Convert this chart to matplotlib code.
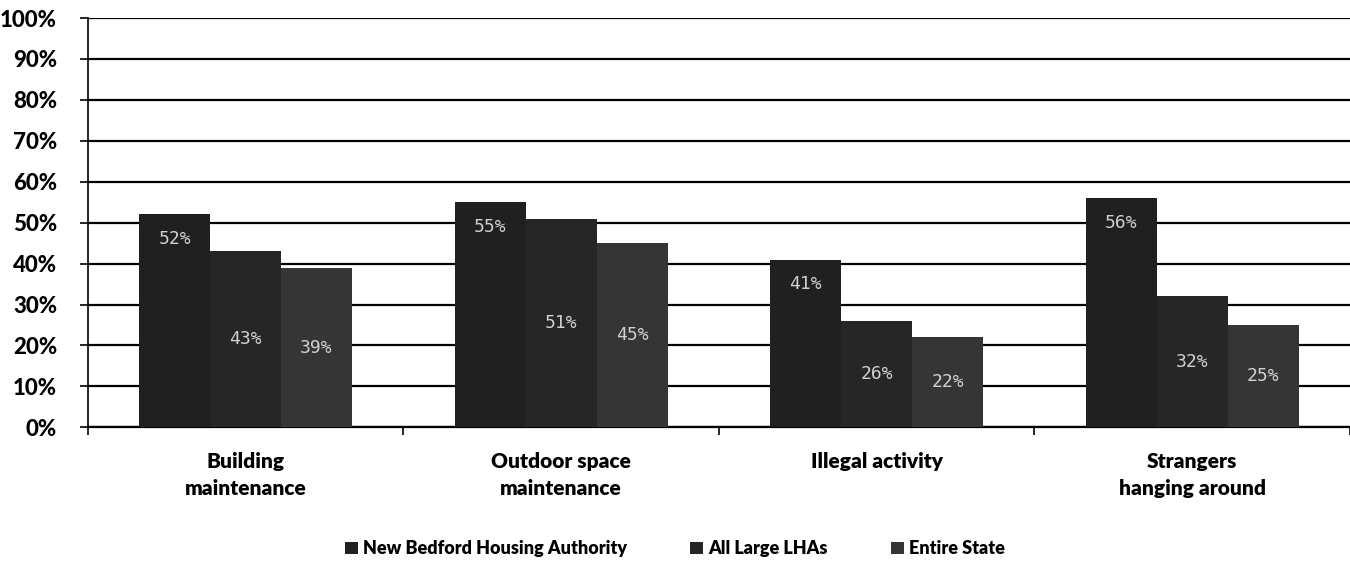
import numpy as np
import matplotlib.pyplot as plt
from matplotlib.ticker import PercentFormatter

kategorie = ["Building\nmaintenance", "Outdoor space\nmaintenance",
             "Illegal activity", "Strangers\nhanging around"]
serie = ["New Bedford Housing Authority", "All Large LHAs", "Entire State"]
new_bedford = [52, 55, 41, 56]
large_lhas = [43, 51, 26, 32]
entire_state = [39, 45, 22, 25]

plt.rcParams["font.family"] = ["Lato", "DejaVu Sans"]

fig = plt.figure(figsize=(13.5, 5.63), dpi=100)
ax = fig.add_axes([0.065, 0.241, 0.935, 0.727])

x = np.arange(len(kategorie))
w = 0.225
kolory = ["#202020", "#262626", "#353535"]
dane = [new_bedford, large_lhas, entire_state]

for i, (wart, nazwa, kol) in enumerate(zip(dane, serie, kolory)):
    slupki = ax.bar(x + (i - 1) * w, wart, width=w, color=kol, label=nazwa, zorder=3)
    for s, v in zip(slupki, wart):
        if i == 0:
            y = v - 6
        else:
            y = v / 2
        ax.text(s.get_x() + s.get_width() / 2, y, f"{v}%", ha="center", va="center",
                color="#d0d0d0", fontsize=13, family="DejaVu Sans Mono", zorder=4)

ax.set_xlim(-0.5, 3.5)
ax.set_ylim(0, 100)
ax.set_yticks(np.arange(0, 101, 10))
ax.yaxis.set_major_formatter(PercentFormatter(decimals=0))
ax.grid(axis="y", color="black", linewidth=1.6, zorder=1)
ax.set_xticks(x)
ax.set_xticklabels(kategorie, fontsize=15, fontweight="heavy", linespacing=1.45)
ax.set_xticks(np.arange(-0.5, 4, 1), minor=True)
ax.tick_params(axis="x", which="major", length=0, pad=18)
ax.tick_params(axis="x", which="minor", length=6, width=1.2, direction="out")
ax.tick_params(axis="y", length=6, width=1.2, labelsize=16, pad=16)
for t in ax.get_yticklabels():
    t.set_fontweight("black")

ax.spines["top"].set_visible(False)
ax.spines["right"].set_visible(False)
ax.spines["left"].set_linewidth(1.2)
ax.spines["bottom"].set_linewidth(1.6)

leg = fig.legend(loc="center", bbox_to_anchor=(0.5, 0.025), ncol=3, frameon=False,
                 prop={"size": 13, "weight": "heavy"}, handlelength=0.7, handleheight=0.7,
                 handletextpad=0.3, columnspacing=3.5)

fig.savefig("out.png", dpi=100)
